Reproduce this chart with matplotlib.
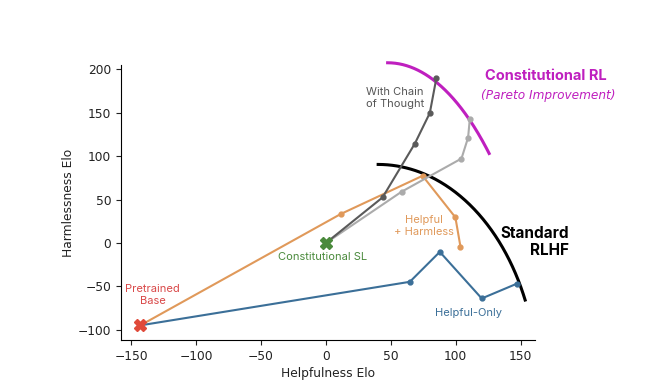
import numpy as np
import matplotlib
matplotlib.use("Agg")
import matplotlib.pyplot as plt

plt.rcParams['font.family'] = ['Inter', 'DejaVu Sans']

# --- data (Elo scores) ---
base = (-143, -95)
sl = (0, 0)

helpful_only_x = [-143, 64.6, 87.7, 120, 147]
helpful_only_y = [-95, -44.8, -10.3, -64, -47]

hh_x = [-143, 11.3, 74.4, 99.7, 103.6]
hh_y = [-95, 33.3, 77.4, 29.5, -4.2]

crl_x = [0, 58.2, 104.4, 109.5, 110.8]
crl_y = [0, 59.0, 97.3, 121.5, 142.9]

cot_x = [0, 43.6, 68.5, 80.0, 85.1]
cot_y = [0, 52.5, 114.6, 149.8, 190.4]

# frontier arcs (sampled from the figure)
rlhf_front_x = [40.2, 59.5, 85.2, 108.2, 126.2, 139.0, 146.7, 153.8]
rlhf_front_y = [90.5, 88.9, 74.4, 47.5, 18.7, -13.8, -40.6, -65.5]
crl_front_x = [47.5, 68.5, 86.4, 101.8, 114.6, 122.3, 124.8]
crl_front_y = [207.7, 202.6, 192.3, 166.3, 135.6, 112.6, 97.4]

x_ticks = [-150, -100, -50, 0, 50, 100, 150]
y_ticks = [-100, -50, 0, 50, 100, 150, 200]


def quarter_ellipse(xs, ys, n=200):
    """Axis-aligned ellipse arc whose top is the first point, fitted to the rest."""
    xs = np.asarray(xs, float)
    ys = np.asarray(ys, float)
    x0, y0 = xs[0], ys[0]
    best = None
    for cy in np.linspace(y0 - 600, ys.min() + 1, 3000):
        ry = y0 - cy
        w = 1 - ((ys - cy) / ry) ** 2
        dx2 = (xs - x0) ** 2
        m = dx2 > 0
        a = np.sum(dx2[m] * w[m]) / np.sum(dx2[m] ** 2)
        if a <= 0:
            continue
        rx = 1 / np.sqrt(a)
        r = np.sqrt(dx2 / rx**2 + ((ys - cy) / ry) ** 2) - 1
        err = np.sum(r**2)
        if best is None or err < best[0]:
            best = (err, cy, rx, ry)
    _, cy, rx, ry = best
    t1 = np.arctan2((ys[-1] - cy) / ry, (xs[-1] - x0) / rx)
    t = np.linspace(np.pi / 2, t1, n)
    return x0 + rx * np.cos(t), cy + ry * np.sin(t)


BLUE = '#3b6f98'
ORANGE = '#e0995a'
DGRAY = '#5a5a5a'
LGRAY = '#ababab'
MAGENTA = '#bf1fbf'
GREEN = '#4a8a3c'
RED = '#e04a3a'

fig = plt.figure(figsize=(6.5, 3.83), dpi=100)
ax = fig.add_axes([0.186, 0.112, 0.637, 0.718])

lw = 1.5
ms = 3.5
ax.plot(helpful_only_x, helpful_only_y, '-o', color=BLUE, lw=lw, ms=ms, zorder=3)
ax.plot(hh_x, hh_y, '-o', color=ORANGE, lw=lw, ms=ms, zorder=3)
ax.plot(crl_x, crl_y, '-o', color=LGRAY, lw=lw, ms=ms, zorder=3)
ax.plot(cot_x, cot_y, '-o', color=DGRAY, lw=lw, ms=ms, zorder=4)

fx, fy = quarter_ellipse(rlhf_front_x, rlhf_front_y)
ax.plot(fx, fy, color='black', lw=2.2, zorder=2, clip_on=False)
gx, gy = quarter_ellipse(crl_front_x, crl_front_y)
ax.plot(gx, gy, color=MAGENTA, lw=2.2, zorder=2, clip_on=False)

ax.plot([base[0]], [base[1]], marker='X', color=RED, ms=9, mec=RED, zorder=5, ls='none')
ax.plot([sl[0]], [sl[1]], marker='X', color=GREEN, ms=9, mec=GREEN, zorder=5, ls='none')

fs = 8
ax.text(53, 166.7, 'With Chain\nof Thought', color='#555555', fontsize=fs,
        ha='center', va='center', linespacing=1.25)
ax.text(169, 193, 'Constitutional RL', color=MAGENTA, fontsize=10.5,
        fontweight='bold', ha='center', va='center')
ax.text(171, 170, '(Pareto Improvement)', color=MAGENTA, fontsize=8.7,
        fontstyle='italic', ha='center', va='center',
        family=['DejaVu Sans'])
ax.text(75.4, 19.5, 'Helpful\n+ Harmless', color=ORANGE, fontsize=fs,
        ha='center', va='center', linespacing=1.25)
ax.text(187, 1.1, 'Standard\nRLHF', color='black', fontsize=11,
        fontweight='bold', ha='right', va='center', multialignment='right',
        linespacing=1.2)
ax.text(-2.3, -16, 'Constitutional SL', color=GREEN, fontsize=fs,
        ha='center', va='center')
ax.text(-133.5, -59.8, 'Pretrained\nBase', color='#d94848', fontsize=fs,
        ha='center', va='center', linespacing=1.25)
ax.text(110, -80.5, 'Helpful-Only', color=BLUE, fontsize=fs,
        ha='center', va='center')

ax.set_xlim(-158, 161)
ax.set_ylim(-112, 205)
ax.set_xticks(x_ticks)
ax.set_yticks(y_ticks)
ax.tick_params(labelsize=8.8, length=3.5, width=0.8, colors='#222222')
for lab in ax.get_xticklabels() + ax.get_yticklabels():
    lab.set_family('DejaVu Sans')
ax.set_xlabel('Helpfulness Elo', fontsize=8.8, labelpad=3, family='DejaVu Sans',
              color='#222222')
ax.set_ylabel('Harmlessness Elo', fontsize=8.8, labelpad=2, family='DejaVu Sans',
              color='#222222')
for s in ['top', 'right']:
    ax.spines[s].set_visible(False)
for s in ['left', 'bottom']:
    ax.spines[s].set_linewidth(0.8)

fig.savefig('out.png', dpi=100)
